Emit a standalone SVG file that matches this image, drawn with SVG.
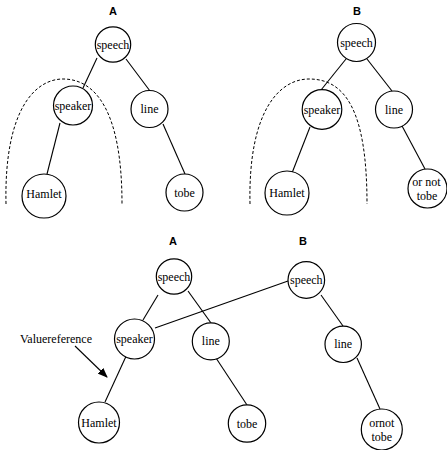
<svg xmlns="http://www.w3.org/2000/svg" width="447" height="450" viewBox="0 0 447 450">
<defs>
<style>
.n{fill:#fff;stroke:#000;stroke-width:1.2}
.t{font-family:"Liberation Serif",serif;font-size:12px;text-anchor:middle;fill:#000}
.h{font-family:"Liberation Sans",sans-serif;font-size:11px;font-weight:bold;text-anchor:middle;fill:#000}
.e{stroke:#000;stroke-width:1.1;fill:none}
.d{stroke:#000;stroke-width:1;fill:none;stroke-dasharray:3,2}
</style>
<marker id="ah" markerWidth="10" markerHeight="8" refX="9" refY="4" orient="auto" markerUnits="userSpaceOnUse">
<path d="M0,0 L10,4 L0,8 Z" fill="#000"/>
</marker>
</defs>
<rect width="447" height="450" fill="#fff"/>
<g id="labels">
<text class="h" x="113" y="15">A</text>
<text class="h" x="357" y="15">B</text>
<text class="h" x="173" y="245">A</text>
<text class="h" x="303" y="245">B</text>
<text class="t" x="56" y="343">Valuereference</text>
</g>
<g id="connectors">
<path class="d" d="M6,204 C4,110 35,79 63,79 C95,79 122,110 122,204"/>
<path class="d" d="M250,204 C248,110 280,79 309,79 C345,79 367,110 367,204"/>
<line class="e" x1="97" y1="58" x2="83" y2="88"/>
<line class="e" x1="126" y1="59" x2="150" y2="91"/>
<line class="e" x1="60" y1="123" x2="47" y2="174"/>
<line class="e" x1="163" y1="124" x2="185" y2="174"/>
<line class="e" x1="346" y1="59" x2="321" y2="90"/>
<line class="e" x1="367" y1="59" x2="392" y2="91"/>
<line class="e" x1="310" y1="127" x2="292" y2="173"/>
<line class="e" x1="401" y1="124" x2="425" y2="169"/>
<line class="e" x1="158" y1="295" x2="143" y2="320"/>
<line class="e" x1="188" y1="291" x2="211" y2="323"/>
<line class="e" x1="128" y1="352" x2="105" y2="402"/>
<line class="e" x1="155" y1="328" x2="288" y2="281"/>
<line class="e" x1="216" y1="358" x2="247" y2="405"/>
<line class="e" x1="321" y1="295" x2="343" y2="326"/>
<line class="e" x1="357" y1="358" x2="380" y2="409"/>
<line class="e" x1="75" y1="346" x2="107" y2="377" marker-end="url(#ah)"/>
</g>
<g id="a-speech"><circle class="n" cx="113" cy="44.5" r="17.7"/><text class="t" x="113" y="48.5">speech</text></g>
<g id="a-speaker"><circle class="n" cx="73" cy="105.5" r="19.5"/><text class="t" x="73" y="109.5">speaker</text></g>
<g id="a-line"><circle class="n" cx="149.5" cy="109" r="18.5"/><text class="t" x="149.5" y="113">line</text></g>
<g id="a-hamlet"><circle class="n" cx="44" cy="196" r="22"/><text class="t" x="44" y="197.5">Hamlet</text></g>
<g id="a-tobe"><circle class="n" cx="184.5" cy="192.5" r="18.5"/><text class="t" x="184.5" y="196.5">tobe</text></g>
<g id="b-speech"><circle class="n" cx="356.5" cy="42.5" r="19"/><text class="t" x="356.5" y="46.5">speech</text></g>
<g id="b-speaker"><circle class="n" cx="322" cy="109.5" r="19.8"/><text class="t" x="322" y="113.5">speaker</text></g>
<g id="b-line"><circle class="n" cx="394" cy="109.5" r="18.5"/><text class="t" x="394" y="113.5">line</text></g>
<g id="b-hamlet"><circle class="n" cx="287" cy="193" r="22"/><text class="t" x="287" y="197">Hamlet</text></g>
<g id="b-ornottobe"><circle class="n" cx="427.5" cy="188.5" r="19.5"/><text class="t" x="426.5" y="186">or not</text><text class="t" x="427" y="200">tobe</text></g>
<g id="c-speech-a"><circle class="n" cx="174" cy="276.5" r="17.7"/><text class="t" x="174" y="280.5">speech</text></g>
<g id="c-speaker"><circle class="n" cx="134.5" cy="339" r="20"/><text class="t" x="134.5" y="343">speaker</text></g>
<g id="c-line-a"><circle class="n" cx="210.8" cy="341.3" r="18.5"/><text class="t" x="210.8" y="345.3">line</text></g>
<g id="c-hamlet"><circle class="n" cx="99" cy="422.5" r="20.5"/><text class="t" x="99" y="426.5">Hamlet</text></g>
<g id="c-tobe-a"><circle class="n" cx="247" cy="423.5" r="18.7"/><text class="t" x="247" y="427.5">tobe</text></g>
<g id="c-speech-b"><circle class="n" cx="306.3" cy="280" r="18.3"/><text class="t" x="306.3" y="284">speech</text></g>
<g id="c-line-b"><circle class="n" cx="343.2" cy="344.3" r="18.2"/><text class="t" x="343.2" y="348.3">line</text></g>
<g id="c-ornottobe"><circle class="n" cx="381.8" cy="429.5" r="20.5"/><text class="t" x="381.8" y="426.5">ornot</text><text class="t" x="381.8" y="441">tobe</text></g>
</svg>
